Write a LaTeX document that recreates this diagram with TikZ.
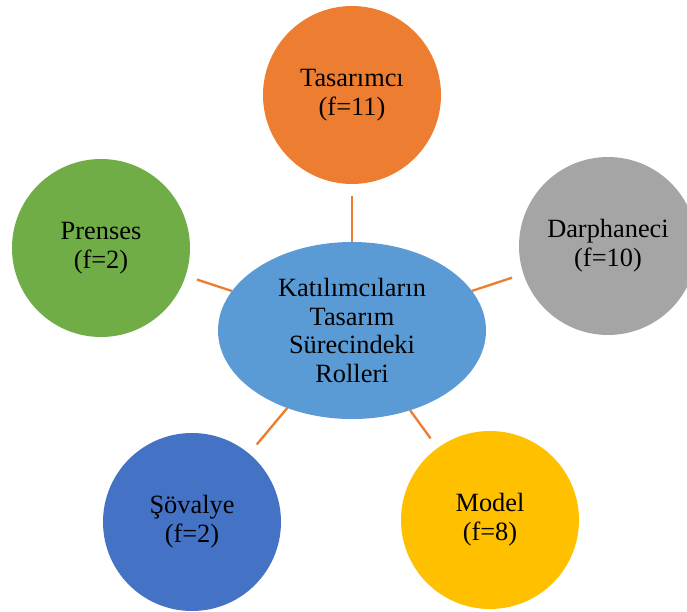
\documentclass[tikz,border=0pt]{standalone}
\usepackage{fontspec}
\setmainfont{Liberation Serif}
\usepackage{tikz}
\usetikzlibrary{shapes.geometric}
\definecolor{orng}{HTML}{ED7D31}
\definecolor{grn}{HTML}{70AD47}
\definecolor{gry}{HTML}{A5A5A5}
\definecolor{blu}{HTML}{4472C4}
\definecolor{ylw}{HTML}{FFC000}
\definecolor{hubblue}{HTML}{5B9BD5}

\begin{document}
\begin{tikzpicture}[x=0.03cm,y=-0.03cm,
    every node/.style={align=center, font=\fontsize{22.5}{24.5}\selectfont, inner sep=0pt, outer sep=0pt},
    role/.style={circle, minimum size=5.34cm},
    hub/.style={ellipse, fill=hubblue, minimum width=8.04cm, minimum height=5.31cm},
    spoke/.style={draw=orng, line width=2pt, shorten >=0.36cm}]
                    \clip (0,0) rectangle (687,612);
                    \node[hub] (hub) at (352,330.5) {Katılımcıların\\Tasarım\\Sürecindeki\\Rolleri};
                    \node[role, fill=orng] (tas) at (352,95) {Tasarımcı\\(f=11)};
                    \node[role, fill=gry] (dar) at (608,246) {Darphaneci\\(f=10)};
                    \node[role, fill=grn] (pre) at (101,248) {Prenses\\(f=2)};
                    \node[role, fill=blu] (sov) at (192,522) {Şövalye\\(f=2)};
                    \node[role, fill=ylw] (mod) at (490,520) {Model\\(f=8)};
                    \draw[spoke] (hub) -- (tas);
                    \draw[spoke] (hub) -- (dar);
                    \draw[spoke] (hub) -- (pre);
                    \draw[spoke] (hub) -- (sov);
                    \draw[spoke] (hub) -- (mod);
                \end{tikzpicture}
\end{document}
